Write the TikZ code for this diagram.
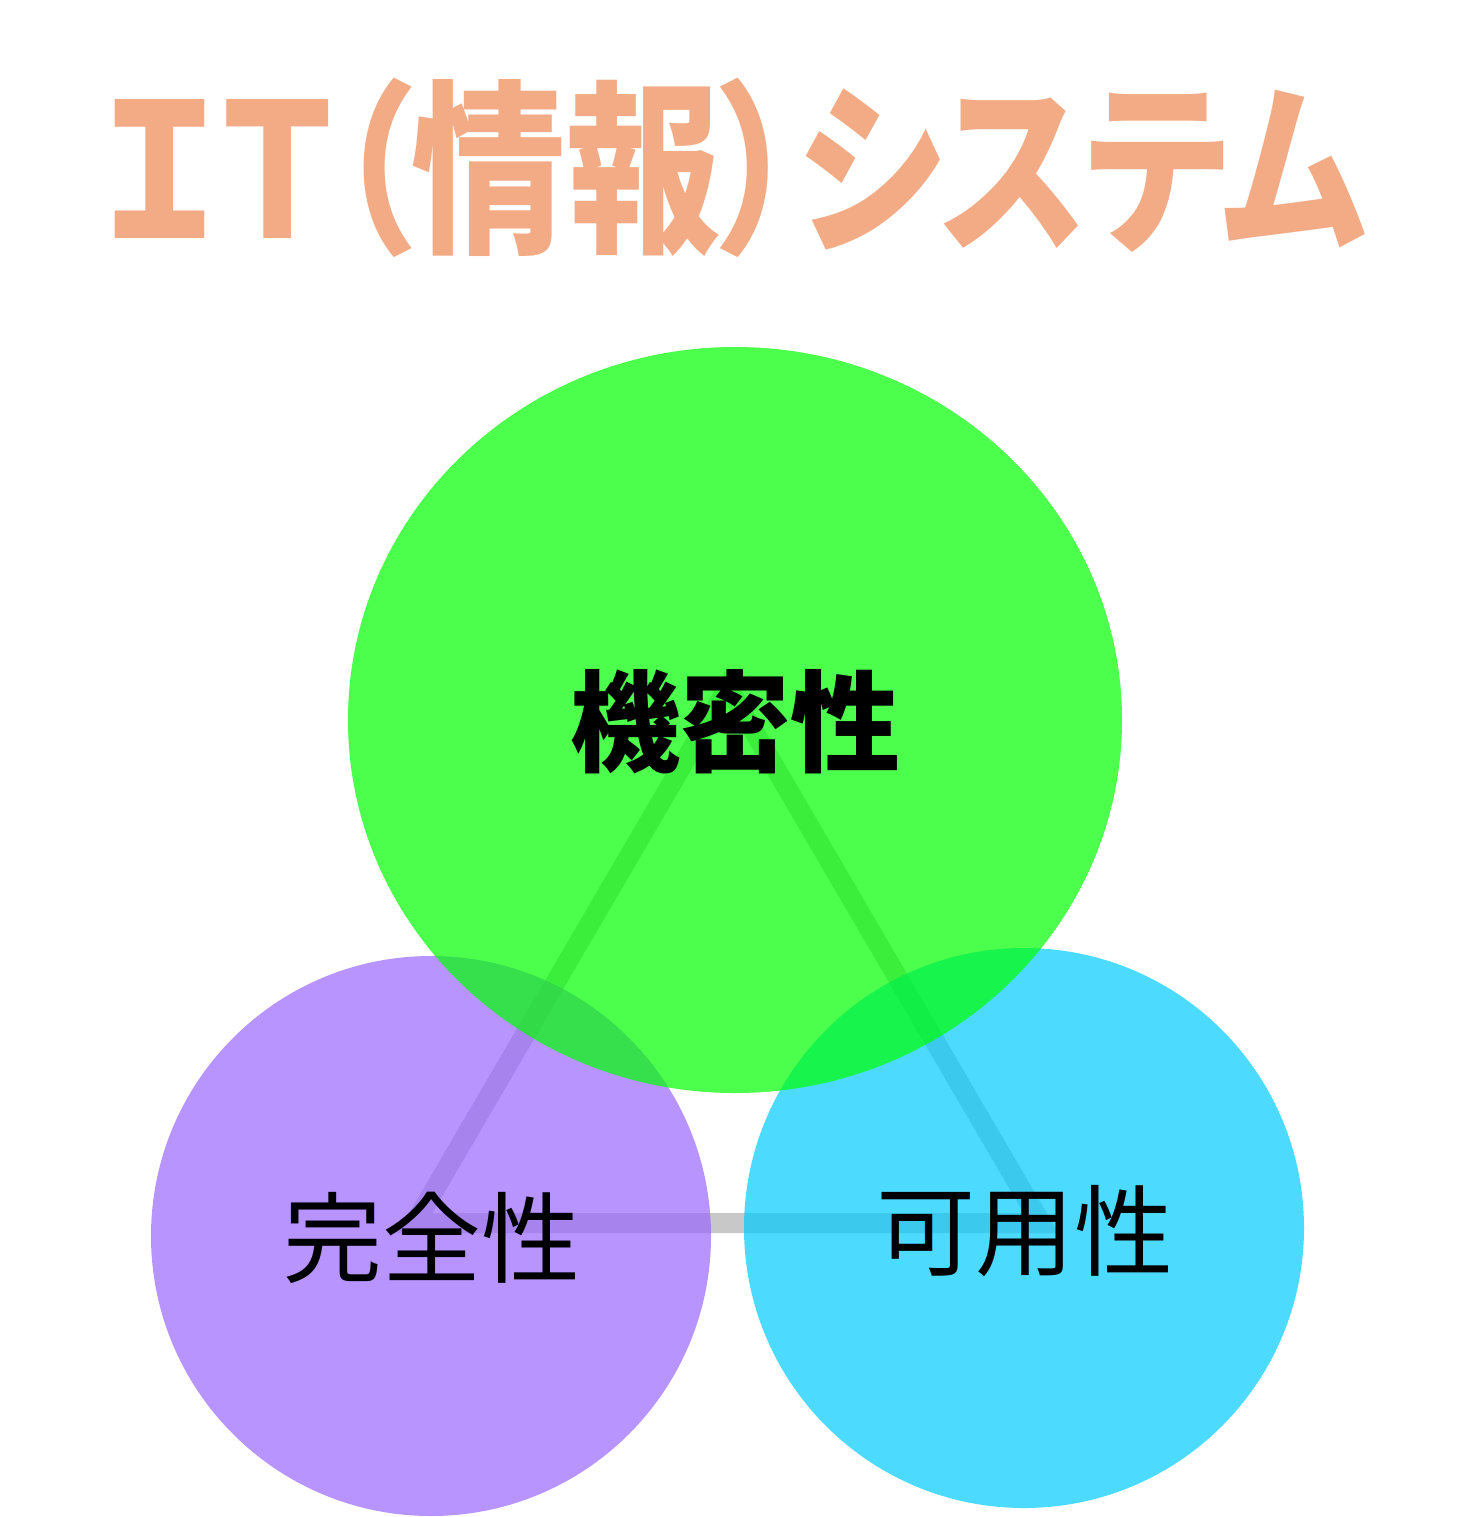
\documentclass[tikz,border=0pt]{standalone}
\usepackage{fontspec}
\usetikzlibrary{positioning}
\newfontfamily\jpfont{Noto Sans CJK JP}
\newfontfamily\jptitle[RawFeature=+palt]{Noto Sans CJK JP}

\definecolor{titleorange}{HTML}{F2AB84}
\definecolor{confgreen}{HTML}{00FF00}
\definecolor{integpurple}{HTML}{9966FF}
\definecolor{availcyan}{HTML}{00CCFF}
\definecolor{linkgray}{HTML}{C8C8C8}

\tikzset{
    cialabel/.style={inner sep=0pt, font=\jpfont\fontsize{99bp}{100bp}\selectfont},
    ciafill/.style={fill opacity=0.7}
}

\begin{document}
\begin{tikzpicture}[x=1bp, y=-1bp]
    \useasboundingbox (0,0) rectangle (1471,1517);

    % Title
    \node[inner sep=0pt, text=titleorange, font=\jptitle\bfseries\fontsize{186bp}{188bp}\selectfont] (title) at (733,168) {\scalebox{0.83}[1]{ＩＴ（情報）システム}};

    % Triangle between the three properties
    \coordinate (conf) at (728,687);
    \coordinate (integ) at (415,1223);
    \coordinate (avail) at (1041,1223);
    \draw[linkgray, line width=20bp, line join=miter] (conf) -- (integ) -- (avail) -- cycle;

    % Circles
    \fill[integpurple, ciafill] (431,1236) circle (280);
    \fill[availcyan, ciafill] (1024,1228) circle (280);
    \fill[confgreen, ciafill] (735,720) ellipse [x radius=387, y radius=373];

    % Labels
    \node[cialabel, font=\jpfont\bfseries\fontsize{110bp}{112bp}\selectfont] (conflabel) at (735,722) {機密性};
    \node[cialabel] (integlabel) at (432,1238) {完全性};
    \node[cialabel] (availlabel) at (1025,1231) {可用性};
\end{tikzpicture}
\end{document}
